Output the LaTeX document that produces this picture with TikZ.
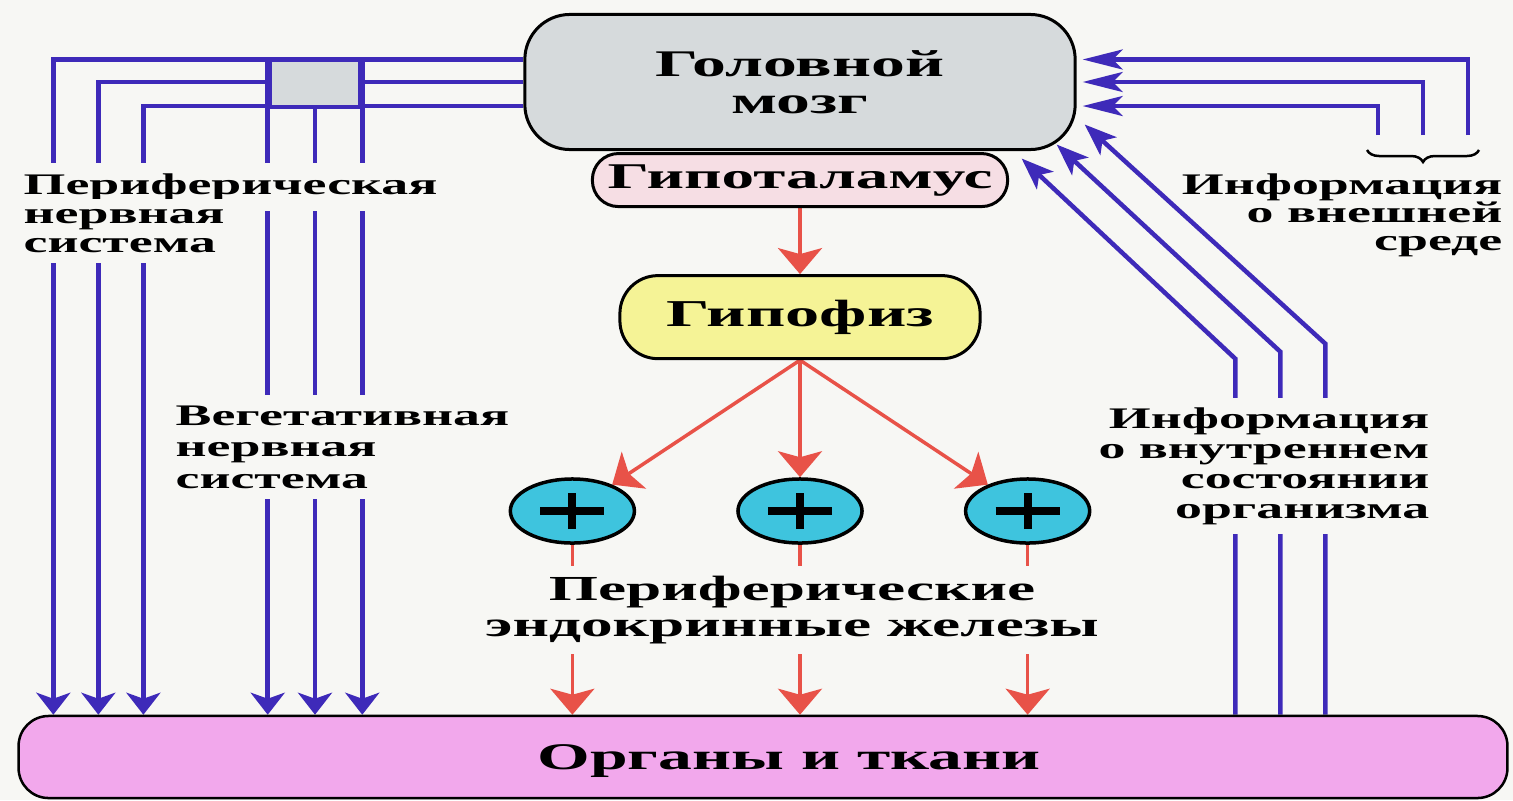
\documentclass[tikz,border=0pt]{standalone}
\usepackage{fontspec}
\setmainfont{Liberation Serif}[FakeStretch=1.8]
\usetikzlibrary{arrows.meta, positioning, shapes.geometric, decorations.pathreplacing, backgrounds}

\definecolor{pagebg}{RGB}{247,247,244}
\definecolor{nerveblue}{RGB}{62,42,185}
\definecolor{hormred}{RGB}{232,82,72}
\definecolor{braingray}{RGB}{214,218,220}
\definecolor{hypopink}{RGB}{246,222,228}
\definecolor{pityellow}{RGB}{245,243,150}
\definecolor{glandcyan}{RGB}{62,196,222}
\definecolor{organpink}{RGB}{242,168,236}

\begin{document}
\begin{tikzpicture}[
    x=0.01cm, y=-0.01cm,
    font=\bfseries,
    box/.style={draw=black, line width=0.03cm, rounded corners=0.45cm, align=center, inner sep=0pt},
    gland/.style={ellipse, draw=black, line width=0.035cm, fill=glandcyan, minimum width=1.24cm, minimum height=0.64cm, inner sep=0pt,
        path picture={\draw[line width=0.08cm] ([xshift=-0.32cm]path picture bounding box.center) -- ([xshift=0.32cm]path picture bounding box.center)
            ([yshift=-0.18cm]path picture bounding box.center) -- ([yshift=0.18cm]path picture bounding box.center);}},
    caption/.style={fill=pagebg, inner xsep=0.06cm, inner ysep=0.1cm, font=\fontsize{8.5}{8.3}\selectfont\bfseries},
    nerve/.style={draw=nerveblue, line width=0.045cm},
    nervedown/.style={nerve, -{Stealth[length=0.22cm, width=0.34cm, inset=0.06cm]}},
    nerveleft/.style={nerve, -{Stealth[length=0.4cm, width=0.2cm, inset=0.1cm]}},
    nervediag/.style={nerve, -{Stealth[length=0.32cm, width=0.24cm, inset=0.08cm]}},
    hormone/.style={draw=hormred, line width=0.035cm, -{Stealth[length=0.26cm, width=0.44cm, inset=0.06cm]}}
]
    % captions
    \node[caption, anchor=west] (pnslbl1) at (17,187) {Периферическая};
    \node[caption, anchor=west, align=left] (pnslbl2) at (17,231) {нервная\\система};
    \node[caption, anchor=west, align=left, font=\fontsize{8.5}{9}\selectfont\bfseries] (anslbl) at (169,447) {Вегетативная\\нервная\\система};
    \node[caption, fill=none, anchor=east, align=right, font=\fontsize{8.5}{8}\selectfont\bfseries] (extlbl) at (1509,215) {Информация\\о внешней\\среде};
    \node[caption, anchor=east, align=right, font=\fontsize{8.5}{8.5}\selectfont\bfseries] (intlbl) at (1436,466) {Информация\\о внутреннем\\состоянии\\организма};
    \node[caption, align=center, font=\fontsize{10}{10.2}\selectfont\bfseries] (endolbl) at (792,610) {Периферические\\эндокринные железы};

    % central chain
    \node[box, fill=braingray, minimum width=5.5cm, minimum height=1.35cm, font=\fontsize{10.7}{10.5}\selectfont\bfseries] (brain) at (800,82) {Головной\\мозг};
    \node[box, fill=hypopink, rounded corners=0.26cm, minimum width=4.15cm, minimum height=0.53cm, below=0.01cm of brain, font=\fontsize{10.3}{12}\selectfont\bfseries] (hypo) {Гипоталамус};
    \node[box, fill=pityellow, rounded corners=0.38cm, minimum width=3.6cm, minimum height=0.83cm, below=0.66cm of hypo, font=\fontsize{10.8}{12}\selectfont\bfseries] (pit) {Гипофиз};
    \node[gland, below=1.17cm of pit] (gland2) {};
    \node[gland, left=1cm of gland2] (gland1) {};
    \node[gland, right=1cm of gland2] (gland3) {};
    \node[box, fill=organpink, rounded corners=0.3cm, line width=0.025cm, minimum width=14.88cm, minimum height=0.82cm,
        label={[xshift=0.26cm, yshift=-0.04cm, font=\fontsize{10.7}{12}\selectfont\bfseries]center:Органы и ткани}] (organs) at (763,757) {};
    \node[draw=nerveblue, line width=0.045cm, fill=braingray, minimum width=0.9cm, minimum height=0.47cm, inner sep=0pt] (ganglion) at (315,83.5) {};

    \coordinate (ext1) at (1468,135);
    \coordinate (ext2) at (1423,135);
    \coordinate (ext3) at (1378,135);
    \coordinate (bracel) at (1367,150);
    \coordinate (bracer) at (1479,150);

    \begin{scope}[on background layer]
        \fill[pagebg] (0,0) rectangle (1513,800);
        % peripheral nerves
        \draw[nervedown] ([yshift=0.225cm]brain.west) -| ([xshift=0.36cm]organs.north west);
        \draw[nervedown] (brain.west) -| ([xshift=0.81cm]organs.north west);
        \draw[nervedown] ([yshift=-0.24cm]brain.west) -| ([xshift=1.26cm]organs.north west);
        % vegetative nerves
        \draw[nervedown] (ganglion.north west) -- (ganglion.north west |- organs.north);
        \draw[nervedown] (ganglion.south) -- (ganglion.south |- organs.north);
        \draw[nervedown] (ganglion.north east) -- (ganglion.north east |- organs.north);
        % outer world
        \foreach \e/\dy in {ext1/0.225cm, ext2/0cm, ext3/-0.24cm}
            \draw[nerveleft] (\e) |- ([shift={(0.06cm,\dy)}]brain.east);
        \draw[line width=0.025cm, decorate, decoration={brace, mirror, amplitude=0.12cm}] (bracel) -- (bracer);
        % inner state
        \draw[nervediag] ([xshift=4.72cm]organs.north) -- ++(0,-356) -- ([shift={(-0.55cm,-0.075cm)}]brain.south east);
        \draw[nervediag] ([xshift=5.17cm]organs.north) -- ++(0,-363) -- ([shift={(-0.2cm,0.065cm)}]brain.south east);
        \draw[nervediag] ([xshift=5.62cm]organs.north) -- ++(0,-371) -- ([shift={(0.08cm,0.265cm)}]brain.south east);
        % hormones
        \draw[hormone] (hypo) -- (pit);
        \foreach \g in {gland1, gland2, gland3} {
            \draw[hormone] (pit.south) -- (\g);
            \draw[hormone] (\g) -- (\g |- organs.north);
        }
    \end{scope}
\end{tikzpicture}
\end{document}
